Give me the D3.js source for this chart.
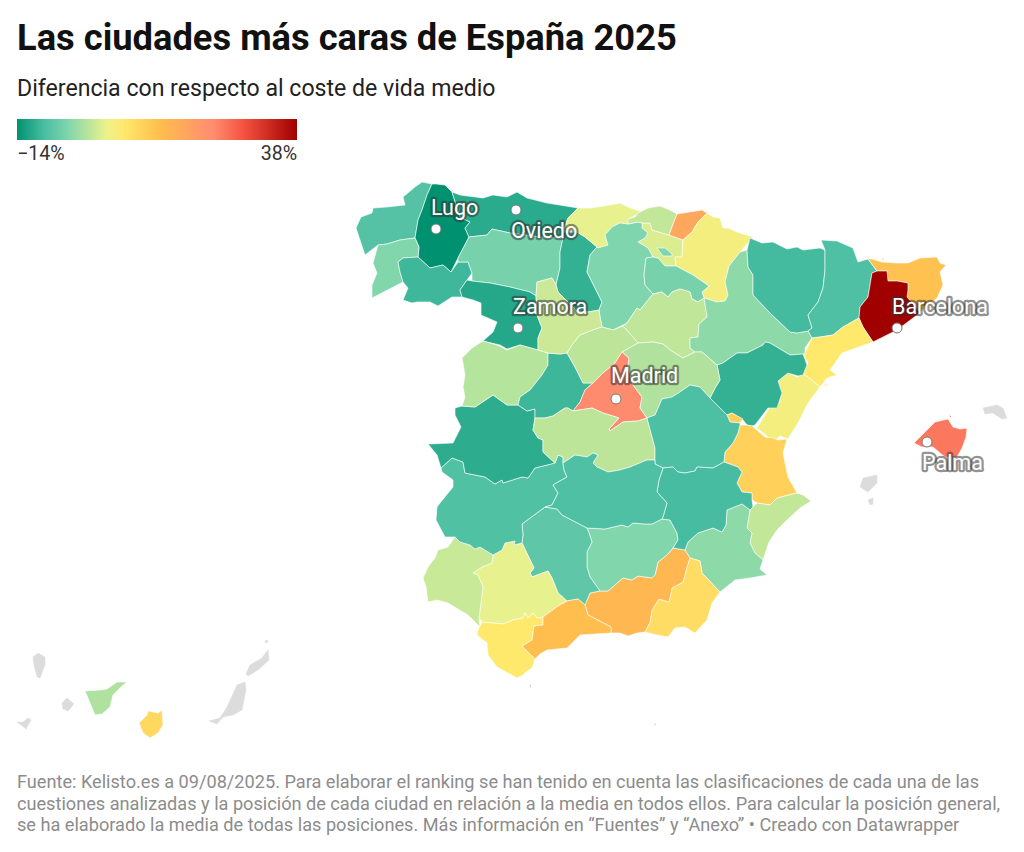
<!DOCTYPE html>
<html>
<head>
<meta charset="utf-8">
<script src="https://cdn.jsdelivr.net/npm/d3@7"></script>
<style>
    html, body { margin: 0; padding: 0; background: #fff; }
    text { font-family: Roboto, sans-serif; }
</style>
</head>
<body>
<svg id="chart" width="1024" height="852"></svg>
<script>
// values, percent difference with the average cost of living
var titleText = "Las ciudades más caras de España 2025";
var subtitleText = "Diferencia con respecto al coste de vida medio";
var footerLines = [
    "Fuente: Kelisto.es a 09/08/2025. Para elaborar el ranking se han tenido en cuenta las clasificaciones de cada una de las",
    "cuestiones analizadas y la posición de cada ciudad en relación a la media en todos ellos. Para calcular la posición general,",
    "se ha elaborado la media de todas las posiciones. Más información en “Fuentes” y “Anexo” • Creado con Datawrapper"
];

var legendMin = -14;
var legendMax = 38;
var legendLabels = ["−14%", "38%"];
// position of each colour along the legend, 0 to 1
var rampStops = [0, 0.1, 0.18, 0.32, 0.38, 0.51, 0.70, 0.81, 1];
var rampColors = ["#009270", "#4bbea3", "#7ed5ad", "#ebf28c", "#ffe96c", "#ffbe4d", "#ff8c70", "#f4523f", "#a00000"];

var provinceNames = ["A Coruña", "Lugo", "Pontevedra", "Ourense", "Asturias", "León", "Zamora", "Palencia", "Cantabria",
    "Álava", "Burgos", "Bizkaia", "Gipuzkoa", "Navarra", "La Rioja", "Soria", "Zaragoza", "Huesca", "Lleida", "Girona",
    "Barcelona", "Tarragona", "Castellón", "Teruel", "Valencia", "Alicante", "Murcia", "Almería", "Granada", "Jaén",
    "Córdoba", "Sevilla", "Huelva", "Cádiz", "Málaga", "Badajoz", "Cáceres", "Salamanca", "Ávila", "Valladolid",
    "Segovia", "Madrid", "Guadalajara", "Toledo", "Cuenca", "Albacete", "Ciudad Real", "Mallorca", "Tenerife",
    "Gran Canaria", "Ceuta", "Melilla"];

var provinceValues = [-8, -14, -4.4, -9.6, -11, -5.2, -11.4, -10.4, 2.4,
    1.5, -4.6, 0, 17, 4, -5.2, -0.2, -3.6, -9.3, -8.5, 12,
    38, 5.8, 4, -10.4, 9.6, 0, -3.6, 7.8, 14, -4.4,
    -7.2, 2.4, 0.3, 5.8, 12.5, -8.3, -10.9, -1, -9.8, 0.5,
    -0.5, 22.5, -1.3, -0.5, -8.6, -9, -8.5, 24.5, -1.4, 8.5, -7, -7];

// outlines, in map grid units, one list of rings per province
var provinceRings = [
    [[[356,228],[361,217],[372,213],[373,208],[387,207],[405,205],[403,197],[415,187],[422,182],[432,184],[427,195],[422,210],[418,220],[415,238],[400,240],[387,244],[378,245],[365,255],[360,240]]],
    [[[432,184],[436,184],[445,185],[452,192],[460,217],[470,222],[465,228],[469,237],[458,258],[451,272],[443,265],[430,268],[418,257],[419,247],[415,238],[418,220],[422,210],[427,195]]],
    [[[415,238],[419,247],[418,257],[403,258],[398,262],[400,272],[403,282],[372,298],[372,285],[377,273],[373,263],[378,245],[387,244],[400,240]]],
    [[[398,262],[403,258],[418,257],[430,268],[443,265],[451,272],[458,262],[468,262],[472,273],[467,280],[460,290],[462,297],[452,297],[438,306],[430,302],[417,302],[412,303],[403,300],[408,288],[403,282],[400,272]]],
    [[[452,192],[460,195],[483,198],[493,195],[507,197],[517,192],[527,198],[547,203],[578,208],[568,218],[563,232],[563,238],[540,237],[510,233],[492,229],[487,235],[469,237],[465,228],[470,222],[460,217]]],
    [[[469,237],[487,235],[492,229],[510,233],[540,237],[563,238],[560,252],[560,268],[556,285],[552,278],[537,282],[536,296],[530,292],[510,287],[490,283],[472,281],[472,273],[468,262],[458,262],[458,258]]],
    [[[460,290],[467,280],[472,281],[490,283],[510,287],[530,292],[536,296],[537,315],[542,328],[538,338],[538,350],[520,345],[507,349],[500,345],[483,341],[493,332],[497,322],[481,315],[481,303],[473,300],[462,297]]],
    [[[563,238],[563,232],[577,232],[585,237],[597,247],[590,255],[587,272],[595,288],[602,302],[599,310],[588,312],[577,311],[558,292],[556,285],[560,268],[560,252]]],
    [[[578,208],[590,208],[610,205],[620,203],[628,207],[642,212],[630,218],[628,224],[620,223],[612,227],[605,235],[608,245],[598,248],[597,247],[585,237],[577,232],[563,232],[568,218]]],
    [[[642,223],[650,223],[652,230],[662,233],[669,235],[683,240],[682,257],[675,257],[676,266],[665,266],[658,258],[653,257],[648,248],[638,242],[645,238],[648,233],[642,228]]],
    [[[605,235],[612,227],[620,223],[628,224],[638,222],[642,223],[642,228],[648,233],[645,238],[638,242],[648,248],[653,257],[646,258],[644,275],[645,285],[653,294],[640,310],[637,308],[627,323],[613,330],[602,327],[600,317],[599,310],[602,302],[595,288],[587,272],[590,255],[597,247],[598,248],[608,245]],
     [[657,248],[665,248],[672,254],[672,256],[663,256]]],
    [[[628,219],[635,217],[638,213],[648,208],[660,206],[670,210],[677,214],[669,235],[662,233],[652,230],[650,223],[642,223],[638,222],[628,224]]],
    [[[677,214],[702,210],[707,213],[698,222],[692,232],[683,240],[669,235]]],
    [[[707,213],[713,217],[720,218],[723,228],[728,228],[737,232],[753,237],[740,252],[729,266],[725,282],[728,295],[725,301],[717,302],[704,298],[702,292],[709,286],[693,275],[676,266],[675,257],[682,257],[683,240],[692,232],[698,222]],
     [[733,268],[737,265],[740,268],[736,272]]],
    [[[646,258],[653,257],[658,258],[665,266],[676,266],[693,275],[709,286],[702,292],[704,298],[698,302],[692,299],[690,292],[680,289],[672,292],[668,297],[662,292],[653,294],[645,285],[644,275]]],
    [[[653,294],[662,292],[668,297],[672,292],[680,289],[690,292],[692,299],[698,302],[704,298],[707,317],[699,324],[698,337],[690,338],[690,348],[695,352],[683,358],[670,350],[663,344],[653,342],[638,343],[623,326],[627,323],[637,308],[640,310]]],
    [[[704,298],[717,302],[725,301],[728,295],[725,282],[729,266],[740,252],[747,250],[748,267],[753,275],[753,295],[770,313],[790,332],[797,333],[808,331],[812,338],[805,348],[805,354],[790,355],[770,343],[765,342],[763,345],[747,353],[737,353],[723,363],[717,365],[702,352],[695,352],[690,348],[690,338],[698,337],[699,324],[707,317]]],
    [[[747,250],[750,238],[762,243],[773,242],[787,249],[797,247],[803,250],[820,248],[825,250],[825,270],[823,288],[818,302],[808,315],[812,328],[808,331],[797,333],[790,332],[770,313],[753,295],[753,275],[748,267]]],
    [[[821,240],[837,241],[853,248],[858,262],[868,259],[877,271],[872,273],[868,297],[860,307],[859,318],[843,327],[833,335],[820,337],[812,338],[808,331],[812,328],[808,315],[818,302],[823,288],[825,270],[825,250]]],
    [[[868,259],[872,259],[882,262],[897,263],[908,263],[920,258],[937,257],[940,263],[946,265],[940,272],[943,285],[937,298],[920,312],[907,297],[908,290],[908,283],[897,281],[888,281],[887,271],[877,271]],
     [[882,258],[884,258],[883,261]]],
    [[[872,273],[877,271],[887,271],[888,281],[897,281],[908,283],[908,290],[907,297],[920,312],[917,315],[897,330],[873,342],[863,327],[859,318],[860,307],[868,297]]],
    [[[859,318],[863,327],[873,342],[842,353],[830,370],[837,375],[827,378],[820,387],[808,377],[803,374],[808,363],[804,355],[812,338],[820,337],[833,335],[843,327]],
     [[823,385],[828,383],[826,386]]],
    [[[803,374],[808,377],[820,387],[808,403],[798,423],[788,439],[780,436],[775,440],[768,437],[757,428],[770,407],[780,403],[780,393],[777,382],[788,373],[797,377]]],
    [[[717,365],[723,363],[737,353],[747,353],[763,345],[765,342],[770,343],[790,355],[803,354],[807,365],[803,375],[798,376],[788,373],[778,381],[782,393],[777,408],[768,408],[755,425],[752,426],[747,425],[743,420],[732,413],[727,415],[710,398],[715,388],[720,380]]],
    [[[747,425],[752,426],[757,430],[765,437],[773,438],[778,440],[787,439],[783,453],[788,477],[797,493],[777,498],[770,505],[757,503],[752,500],[752,493],[742,492],[737,483],[742,472],[738,467],[724,462],[725,452],[733,443],[738,433],[740,425]],
     [[727,415],[732,413],[743,419],[740,423],[730,422]]],
    [[[753,507],[757,503],[770,505],[777,498],[797,493],[803,495],[811,501],[800,508],[787,520],[777,530],[769,542],[763,560],[755,553],[750,543],[752,533],[747,528],[750,510]]],
    [[[685,550],[688,542],[698,533],[713,528],[722,532],[726,525],[727,510],[742,504],[750,510],[747,528],[752,533],[750,543],[755,553],[763,560],[760,569],[767,575],[750,578],[735,580],[720,592],[702,573],[700,561],[690,558]]],
    [[[690,558],[700,561],[702,573],[720,592],[712,603],[707,620],[695,633],[685,627],[675,628],[668,637],[657,635],[645,632],[650,622],[652,610],[659,599],[669,602],[672,588],[683,582],[687,567]]],
    [[[673,548],[685,550],[690,558],[687,567],[683,582],[672,588],[669,602],[659,599],[652,610],[650,622],[645,632],[637,633],[628,636],[620,633],[611,633],[611,627],[588,615],[585,605],[590,593],[600,591],[608,591],[623,578],[632,580],[638,576],[652,578],[655,575],[658,562],[667,555]]],
    [[[587,528],[605,529],[622,525],[628,527],[633,523],[645,524],[652,524],[662,519],[670,520],[677,533],[678,540],[673,548],[667,555],[658,562],[655,575],[652,578],[638,576],[632,580],[623,578],[608,591],[600,591],[590,577],[587,567],[587,552],[592,542],[589,533]]],
    [[[545,507],[557,509],[562,515],[587,528],[589,533],[592,542],[587,552],[587,567],[590,577],[600,591],[590,593],[585,605],[578,599],[567,601],[558,593],[552,578],[548,571],[532,577],[530,573],[534,568],[522,543],[523,535],[522,524]]],
    [[[502,550],[505,543],[515,541],[514,545],[522,543],[534,568],[530,573],[532,577],[548,571],[552,578],[558,593],[567,601],[558,606],[543,617],[537,618],[533,613],[528,618],[525,613],[523,618],[513,620],[503,624],[482,622],[479,618],[482,595],[483,587],[478,575],[473,573],[482,567],[492,563],[493,555]]],
    [[[448,547],[455,537],[460,542],[470,545],[475,549],[480,547],[493,555],[492,563],[482,567],[473,573],[478,575],[483,587],[482,595],[479,618],[480,627],[468,615],[448,603],[437,600],[428,602],[426,587],[423,578],[428,567],[435,558],[438,550]]],
    [[[482,622],[503,624],[513,620],[523,618],[525,613],[528,618],[533,613],[537,618],[543,617],[543,625],[534,626],[532,640],[522,646],[535,659],[532,668],[526,672],[523,675],[517,678],[508,673],[497,667],[488,655],[487,643],[477,635],[478,630]]],
    [[[543,617],[558,606],[567,601],[578,599],[585,605],[588,615],[611,627],[611,633],[580,635],[567,648],[547,650],[540,654],[535,659],[522,646],[532,640],[534,626],[543,625]]],
    [[[441,468],[452,458],[463,462],[465,473],[485,477],[495,484],[502,480],[503,483],[522,477],[528,478],[535,468],[555,463],[558,455],[563,457],[563,463],[564,470],[567,477],[553,485],[558,493],[552,505],[545,507],[522,524],[523,535],[522,543],[514,545],[515,541],[505,543],[502,550],[493,555],[480,547],[475,549],[470,545],[460,542],[455,537],[445,537],[436,520],[437,507],[440,503],[453,487],[453,480],[442,472]]],
    [[[455,408],[462,406],[475,407],[493,395],[507,405],[518,405],[527,411],[535,409],[535,418],[533,430],[538,438],[543,440],[543,452],[555,463],[535,468],[528,478],[522,477],[503,483],[502,480],[495,484],[485,477],[465,473],[463,462],[452,458],[441,468],[437,455],[428,444],[453,443],[461,427],[455,415]]],
    [[[462,358],[472,348],[483,341],[497,345],[507,350],[520,345],[538,350],[548,353],[548,365],[542,375],[530,390],[520,397],[518,405],[507,405],[493,395],[475,407],[462,406],[465,397],[463,387],[465,375],[463,363]]],
    [[[548,353],[560,354],[567,353],[575,367],[583,383],[593,383],[585,390],[580,402],[573,411],[568,408],[565,408],[553,416],[545,418],[535,418],[535,409],[527,411],[518,405],[520,397],[530,390],[542,375],[548,365]]],
    [[[536,296],[537,282],[552,278],[556,285],[558,292],[577,311],[588,312],[599,310],[600,317],[602,327],[593,330],[580,335],[572,345],[567,353],[560,354],[548,353],[538,350],[538,338],[542,328],[537,315]]],
    [[[567,353],[572,345],[580,335],[593,330],[602,327],[613,330],[623,326],[638,343],[622,352],[615,363],[603,373],[593,383],[583,383],[575,367]]],
    [[[622,352],[629,358],[628,367],[633,385],[642,397],[640,408],[647,418],[638,421],[623,422],[610,431],[609,429],[619,418],[603,413],[592,408],[573,411],[580,402],[585,390],[593,383],[603,373],[615,363]]],
    [[[638,343],[653,342],[663,344],[670,350],[683,358],[695,352],[702,352],[717,365],[720,380],[715,388],[710,398],[700,387],[690,385],[680,392],[672,397],[662,399],[655,415],[647,418],[640,408],[642,397],[633,385],[628,367],[629,358],[622,352]]],
    [[[535,418],[545,418],[553,416],[565,408],[568,408],[573,411],[592,408],[603,413],[619,418],[609,429],[610,431],[623,422],[638,421],[647,418],[655,448],[655,460],[647,460],[630,467],[620,470],[608,472],[597,467],[593,463],[598,455],[593,453],[587,457],[575,455],[563,463],[563,457],[558,455],[555,463],[543,452],[543,440],[538,438],[533,430]]],
    [[[647,418],[655,415],[662,399],[672,397],[680,392],[690,385],[700,387],[710,398],[727,415],[730,422],[740,423],[740,425],[738,433],[733,443],[725,452],[724,462],[713,468],[697,467],[695,471],[685,473],[678,472],[673,467],[663,468],[655,464],[655,448]]],
    [[[663,468],[673,467],[678,472],[685,473],[695,471],[697,467],[713,468],[724,462],[738,467],[742,472],[737,483],[742,492],[752,493],[752,500],[753,507],[750,510],[742,504],[727,510],[726,525],[722,532],[713,528],[698,533],[688,542],[685,550],[673,548],[678,540],[677,533],[670,520],[662,519],[663,517],[667,503],[657,492],[659,480]]],
    [[[563,463],[575,455],[587,457],[593,453],[598,455],[593,463],[597,467],[608,472],[620,470],[630,467],[647,460],[655,460],[655,464],[663,468],[659,480],[657,492],[667,503],[663,517],[662,519],[652,524],[645,524],[633,523],[628,527],[622,525],[605,529],[587,528],[562,515],[557,509],[545,507],[552,505],[558,493],[553,485],[567,477],[564,470]]],
    [[[914,443],[925,432],[935,422],[948,419],[953,427],[960,429],[967,428],[966,437],[962,448],[957,457],[945,457],[940,453],[933,447],[922,447]],
     [[949,416],[951,415],[951,418]],
     [[943,467],[945,467],[944,469]]],
    [[[85,691],[100,690],[107,689],[117,682],[127,682],[122,686],[113,695],[110,707],[102,714],[95,715],[88,698]]],
    [[[139,723],[147,715],[148,711],[158,713],[162,710],[163,725],[158,733],[150,738],[143,733]]],
    [[[529,685],[531,685],[531,688]]],
    [[[654,723],[656,724],[655,726]]]
];

// islands without data
var noDataRings = [
    [[860,487],[863,478],[877,475],[877,483],[868,492]],
    [[868,500],[873,498],[873,504],[870,505]],
    [[983,408],[997,405],[1003,408],[1007,418],[1002,419],[993,413],[985,414]],
    [[33,657],[38,653],[45,657],[45,665],[40,678],[37,677],[34,665]],
    [[62,703],[67,698],[74,704],[68,711],[63,709]],
    [[17,722],[23,722],[28,718],[31,720],[26,729],[20,724]],
    [[209,721],[220,718],[227,707],[237,685],[245,682],[246,690],[242,710],[233,715],[223,717],[217,724]],
    [[246,674],[250,665],[262,658],[268,650],[269,660],[258,670],[248,676]],
    [[266,640],[268,641],[267,643],[265,642]]
];

var cityNames = ["Lugo", "Oviedo", "Zamora", "Madrid", "Barcelona", "Palma"];
var cityPoints = [[436,229], [516,210], [518,328], [616,399], [897,328], [927,442]];
var cityLabelPoints = [[431,215], [511,238], [513,314], [611,383], [892,314], [922,470]];

var svg = d3.select("#chart");

// header
svg.append("text").attr("x", 17).attr("y", 50)
    .style("font-size", "36.3px").style("font-weight", 700).style("fill", "#111")
    .text(titleText);
svg.append("text").attr("x", 17).attr("y", 96)
    .style("font-size", "23.1px").style("fill", "#222")
    .text(subtitleText);

// colour scale
var tToValue = d3.scaleLinear().domain([0, 1]).range([legendMin, legendMax]);
var color = d3.scaleLinear()
    .domain(rampStops.map(function(t) { return tToValue(t); }))
    .range(rampColors)
    .interpolate(d3.interpolateRgb);

// legend
var legendScale = d3.scaleLinear().domain([legendMin, legendMax]).range([17, 297]);
var grad = svg.append("defs").append("linearGradient").attr("id", "legendRamp");
rampStops.forEach(function(t, i) {
    grad.append("stop").attr("offset", (t * 100) + "%").attr("stop-color", rampColors[i]);
});
svg.append("rect")
    .attr("x", legendScale(legendMin)).attr("y", 119)
    .attr("width", legendScale(legendMax) - legendScale(legendMin)).attr("height", 21)
    .attr("fill", "url(#legendRamp)");
svg.selectAll(".legend-label").data(legendLabels).enter().append("text")
    .attr("class", "legend-label")
    .attr("x", function(d, i) { return legendScale(i === 0 ? legendMin : legendMax); })
    .attr("y", 160)
    .attr("text-anchor", function(d, i) { return i === 0 ? "start" : "end"; })
    .style("font-size", "19.6px").style("fill", "#333")
    .text(function(d) { return d; });

// map
var path = d3.geoPath(d3.geoIdentity());

function closeRing(ring) {
    return ring.concat([ring[0]]);
}

var noDataFeatures = noDataRings.map(function(ring) {
    return { type: "Feature", geometry: { type: "Polygon", coordinates: [closeRing(ring)] } };
});
svg.append("g").selectAll("path").data(noDataFeatures).enter().append("path")
    .attr("d", path)
    .attr("fill", "#dcdcdc")
    .attr("stroke", "#dcdcdc")
    .attr("stroke-width", 0.5);

var features = provinceNames.map(function(name, i) {
    return {
        type: "Feature",
        properties: { name: name, value: provinceValues[i] },
        geometry: { type: "MultiPolygon", coordinates: provinceRings[i].map(function(r) { return [closeRing(r)]; }) }
    };
});
svg.append("g").selectAll("path").data(features).enter().append("path")
    .attr("d", path)
    .attr("fill", function(d) { return color(d.properties.value); })
    .attr("stroke", "#fff")
    .attr("stroke-opacity", 0.75)
    .attr("stroke-width", 0.8)
    .attr("stroke-linejoin", "round");

// cities
svg.append("g").selectAll("circle").data(cityPoints).enter().append("circle")
    .attr("cx", function(d) { return d[0]; })
    .attr("cy", function(d) { return d[1]; })
    .attr("r", 5)
    .attr("fill", "#fff")
    .attr("stroke", "#777")
    .attr("stroke-width", 1);

svg.append("g").selectAll("text").data(cityNames).enter().append("text")
    .attr("x", function(d, i) { return cityLabelPoints[i][0]; })
    .attr("y", function(d, i) { return cityLabelPoints[i][1]; })
    .style("font-size", "21.5px")
    .style("fill", "#fff")
    .style("stroke", "rgba(50,50,50,0.55)")
    .style("stroke-width", "4.5px")
    .style("stroke-linejoin", "round")
    .style("paint-order", "stroke")
    .text(function(d) { return d; });

// footer
svg.selectAll(".foot").data(footerLines).enter().append("text")
    .attr("class", "foot")
    .attr("x", 17)
    .attr("y", function(d, i) { return 788 + i * 21.5; })
    .style("font-size", "18.15px").style("fill", "#8c8c8c")
    .text(function(d) { return d; });
</script>
</body>
</html>
